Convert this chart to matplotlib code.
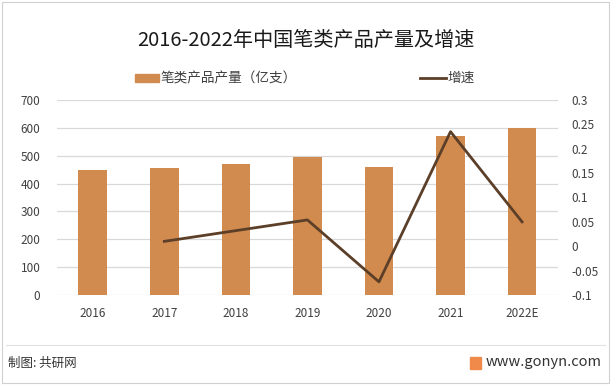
import matplotlib
matplotlib.use("Agg")
import matplotlib.pyplot as plt
from matplotlib.patches import Rectangle
from matplotlib.lines import Line2D
from matplotlib.ticker import FuncFormatter

plt.rcParams['font.family'] = ['Noto Sans CJK SC', 'DejaVu Sans']

years = ["2016", "2017", "2018", "2019", "2020", "2021", "2022E"]
output = [449, 456, 471, 495, 459, 572, 600]
growth_years = ["2017", "2018", "2019", "2020", "2021", "2022E"]
growth = [0.010, 0.032, 0.054, -0.073, 0.235, 0.050]

bar_color = "#D28B4E"
line_color = "#5C3F28"
grid_color = "#D9D9D9"
text_color = "#404040"

fig = plt.figure(figsize=(6.11, 3.85), dpi=100)
fig.patch.set_facecolor("white")

ax = fig.add_axes([0.0933, 0.2338, 0.8197, 0.5065])
x = list(range(len(years)))
ax.bar(x, output, width=0.4, color=bar_color, zorder=2)
ax.set_ylim(0, 700)
ax.set_yticks(range(0, 701, 100))
ax.set_xlim(-0.5, len(years) - 0.5)
ax.set_xticks(x)
ax.set_xticklabels(years)
ax.yaxis.grid(True, color=grid_color, linewidth=0.9, zorder=0)
ax.set_axisbelow(True)
for s in ax.spines.values():
    s.set_visible(False)
ax.tick_params(axis='both', length=0, labelsize=8.5, colors=text_color)
ax.tick_params(axis='x', pad=9)
ax.tick_params(axis='y', pad=12)

ax2 = ax.twinx()
gx = [years.index(y) for y in growth_years]
ax2.plot(gx, growth, color=line_color, linewidth=2.0, zorder=3)
ax2.set_ylim(-0.1, 0.3)
ax2.set_yticks([-0.1, -0.05, 0, 0.05, 0.1, 0.15, 0.2, 0.25, 0.3])
ax2.yaxis.set_major_formatter(FuncFormatter(lambda v, p: "{:g}".format(round(v, 2))))
for s in ax2.spines.values():
    s.set_visible(False)
ax2.tick_params(axis='y', length=0, labelsize=8.5, colors=text_color, pad=10)

# Title
fig.text(0.5, 1 - 40 / 385, "2016-2022年中国笔类产品产量及增速", ha='center', va='center',
         fontsize=14.5, color="#1a1a1a")

# Legend
fig.patches.append(Rectangle((135 / 611, 1 - 82 / 385), 24 / 611, 8 / 385,
                             transform=fig.transFigure, color=bar_color))
fig.text(161 / 611, 1 - 78 / 385, "笔类产品产量（亿支）", ha='left', va='center',
         fontsize=9.8, color=text_color)
fig.lines.append(Line2D([420 / 611, 446 / 611], [1 - 78 / 385, 1 - 78 / 385],
                        transform=fig.transFigure, color=line_color, linewidth=2))
fig.text(447 / 611, 1 - 78 / 385, "增速", ha='left', va='center',
         fontsize=9.8, color=text_color)

# Separator line and footer
fig.lines.append(Line2D([6 / 611, 605 / 611], [1 - 345 / 385, 1 - 345 / 385],
                        transform=fig.transFigure, color="#E0E0E0", linewidth=0.8))
fig.text(8 / 611, 1 - 363 / 385, "制图: 共研网", ha='left', va='center',
         fontsize=9, color="#333333")
fig.patches.append(Rectangle((470 / 611, 1 - 369 / 385), 11 / 611, 12 / 385,
                             transform=fig.transFigure, color="#F08A4B"))
fig.text(602 / 611, 1 - 362 / 385, "www.gonyn.com", ha='right', va='center',
         fontsize=10.5, color="#333333")

# Outer border
fig.patches.append(Rectangle((2 / 611, 2 / 385), 607 / 611, 381 / 385,
                             transform=fig.transFigure, fill=False,
                             edgecolor="#D0D0D0", linewidth=0.8))

fig.savefig("out.png", dpi=100)
